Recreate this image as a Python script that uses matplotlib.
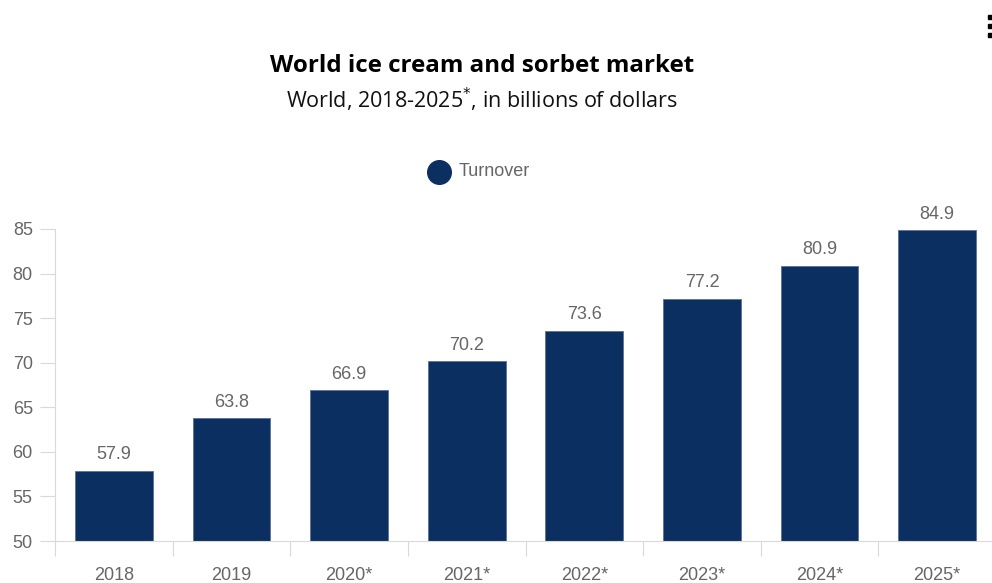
import matplotlib
matplotlib.use("Agg")
import matplotlib.pyplot as plt
from matplotlib.lines import Line2D

# market turnover, billions of dollars (starred years are estimates)
years = ["2018", "2019", "2020*", "2021*", "2022*", "2023*", "2024*", "2025*"]
turnover = [57.9, 63.8, 66.9, 70.2, 73.6, 77.2, 80.9, 84.9]

NAVY = "#0b2f60"
GREY_TXT = "#666666"
AXIS = "#d9d9d9"

plt.rcParams["font.family"] = ["Liberation Sans", "DejaVu Sans"]

fig = plt.figure(figsize=(9.92, 5.83), dpi=100)
fig.patch.set_facecolor("white")
ax = fig.add_axes([55 / 992, 42 / 583, 941 / 992, 312 / 583])

x = list(range(len(years)))
ax.bar(x, turnover, width=0.66, color=NAVY, edgecolor="#5b7396",
       linewidth=0.6, zorder=2)

for xi, v in zip(x, turnover):
    ax.text(xi, v + 0.8, f"{v}", ha="center", va="bottom",
            fontsize=13, color=GREY_TXT)

ax.set_xlim(-0.5, len(years) - 0.5)
ax.set_ylim(50, 85)

ax.set_yticks(range(50, 86, 5))
ax.tick_params(axis="y", length=11, width=0.8, color=AXIS, pad=5,
               labelsize=13, labelcolor=GREY_TXT)

# labels at bar centres, tick marks between categories
ax.set_xticks(x)
ax.set_xticklabels(years)
ax.set_xticks([i - 0.5 for i in range(len(years) + 1)], minor=True)
ax.tick_params(axis="x", which="major", length=0, pad=19,
               labelsize=13, labelcolor=GREY_TXT)
ax.tick_params(axis="x", which="minor", length=11, width=0.8, color=AXIS)

for side in ("top", "right"):
    ax.spines[side].set_visible(False)
ax.spines["left"].set_color(AXIS)
ax.spines["bottom"].set_color(AXIS)
ax.spines["left"].set_linewidth(0.8)
ax.spines["bottom"].set_linewidth(0.8)

# titles
fig.text(482 / 992, 1 - 66 / 583, "World ice cream and sorbet market",
         ha="center", va="center", fontsize=17.4, fontweight="bold",
         family=["Open Sans", "DejaVu Sans"], color="black")
fig.text(482 / 992, 1 - 100 / 583, "World, 2018-2025$^{*}$, in billions of dollars",
         ha="center", va="center", fontsize=15.5,
         family=["Open Sans", "DejaVu Sans"], color="#111111")

# legend
fig.add_artist(Line2D([439 / 992], [1 - 172 / 583], marker="o", markersize=17,
                      color=NAVY, linestyle="none", transform=fig.transFigure))
fig.text(459 / 992, 1 - 171 / 583, "Turnover", ha="left", va="center",
         fontsize=13, color=GREY_TXT)

# menu dots in the corner
for yy in (17, 26, 35):
    fig.add_artist(Line2D([990 / 992], [1 - yy / 583], marker="s", markersize=3,
                          color="black", linestyle="none",
                          transform=fig.transFigure))

fig.savefig("out.png", dpi=100, facecolor="white")
